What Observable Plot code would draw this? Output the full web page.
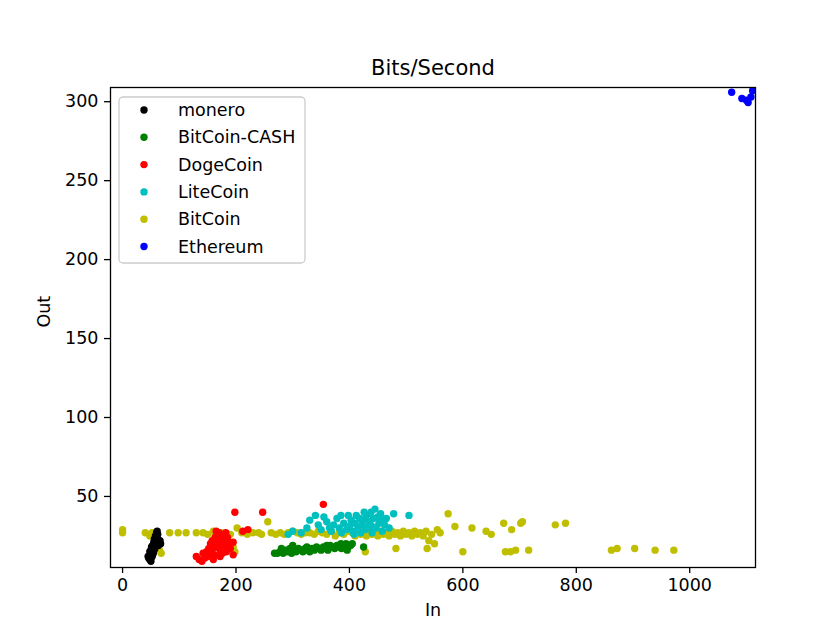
<!DOCTYPE html>
<html>
<head>
<meta charset="utf-8">
<script src="https://cdn.jsdelivr.net/npm/d3@7"></script>
<script src="https://cdn.jsdelivr.net/npm/@observablehq/plot@0.6"></script>
<style>
  html, body { margin: 0; padding: 0; background: #fff; }
  #chart { position: relative; width: 828px; height: 633px; }
</style>
</head>
<body>
<div id="chart"></div>
<script>
// ---- data (In, Out) ----
const seriesNames = ["monero", "BitCoin-CASH", "DogeCoin", "LiteCoin", "BitCoin", "Ethereum"];
const seriesColors = ["#000000", "#008000", "#ff0000", "#00bfbf", "#bfbf00", "#0000ff"];

const monero = [[48,10],[50,11],[47,12],[52,12],[49,13],[51,14],[53,13],[48,15],[50,16],[54,15],[52,17],[55,16],[51,18],[56,18],[53,19],[57,20],[55,21],[58,19],[59,22],[56,23],[60,21],[61,24],[58,25],[62,26],[60,27],[61,28],[59,20],[62,20],[65,21],[57,17],[49,11],[46,11],[54,14],[63,19],[67,20],[66,22],[50,9],[45,12]];
const bitcoinCash = [[268,14],[273,14],[278,15],[283,14],[287,16],[290,15],[295,17],[298,14],[302,16],[306,15],[310,17],[314,16],[318,15],[322,17],[326,16],[330,15],[334,17],[338,16],[342,18],[346,17],[350,16],[354,18],[358,17],[362,16],[366,19],[370,18],[374,17],[378,19],[382,18],[386,17],[390,19],[394,20],[398,18],[402,19],[405,20],[425,18],[280,17],[300,19],[325,18],[360,19],[385,20],[396,16]];
const dogecoin = [[135,10],[140,9],[130,12],[145,11],[150,12],[148,15],[155,14],[152,17],[158,16],[160,19],[162,13],[165,18],[168,22],[170,20],[172,16],[163,24],[175,25],[178,22],[180,19],[182,27],[170,27],[165,28],[185,24],[188,21],[176,14],[158,22],[155,20],[190,17],[195,21],[195,13],[198,40],[247,40],[354,45],[212,28],[221,29],[172,12],[160,10],[142,14],[183,15],[167,25]];
const litecoin = [[292,26],[300,28],[315,27],[325,30],[330,35],[340,38],[345,32],[350,29],[355,37],[360,34],[365,30],[368,28],[372,32],[378,36],[382,30],[386,27],[390,33],[395,29],[398,38],[400,31],[403,35],[406,28],[410,33],[412,38],[415,30],[418,36],[420,27],[422,32],[425,35],[428,29],[430,38],[433,31],[436,34],[438,40],[440,27],[442,36],[445,42],[447,30],[450,37],[452,33],[455,39],[458,28],[460,35],[462,32],[465,36],[440,31],[426,40],[408,26],[478,39],[505,38],[470,30],[385,38]];
const bitcoin = [[0,27],[0,29],[40,27],[48,25],[52,27],[65,16],[68,14],[83,27],[98,27],[112,27],[130,27],[142,27],[150,26],[160,28],[175,27],[190,26],[195,18],[198,15],[202,30],[210,27],[220,26],[230,27],[240,27],[245,26],[256,34],[262,27],[270,26],[278,27],[285,26],[292,27],[300,28],[308,27],[315,26],[322,27],[330,27],[338,26],[345,28],[352,27],[360,26],[368,28],[375,25],[382,27],[390,26],[398,28],[405,27],[410,25],[415,28],[420,26],[425,27],[428,15],[430,25],[435,28],[440,26],[445,27],[450,25],[455,28],[460,26],[465,27],[470,25],[475,28],[480,26],[482,17],[485,27],[490,25],[495,28],[500,26],[505,27],[510,25],[515,28],[520,26],[525,27],[530,25],[535,28],[537,17],[540,22],[545,26],[550,20],[555,29],[560,27],[574,39],[586,31],[600,15],[616,30],[641,28],[650,26],[672,33],[675,15],[684,15],[686,29],[693,16],[702,33],[705,34],[716,16],[763,32],[781,33],[862,16],[872,17],[903,17],[939,16],[972,16]];
const ethereum = [[1074,306],[1092,302],[1103,299.5],[1111,307],[1108,303],[1100,301]];

const xTicks = [0, 200, 400, 600, 800, 1000];
const yTicks = [50, 100, 150, 200, 250, 300];
const title = "Bits/Second";
const xLabel = "In";
const yLabel = "Out";

// ---- build table ----
const seriesData = [monero, bitcoinCash, dogecoin, litecoin, bitcoin, ethereum];
const drawOrder = [4, 0, 1, 2, 3, 5];
const rows = [];
for (const i of drawOrder) {
  for (const [x, y] of seriesData[i]) rows.push({series: seriesNames[i], x, y});
}

const W = 828, H = 633;
const mL = 110, mR = 73, mT = 87, mB = 66;

const chart = Plot.plot({
  width: W,
  height: H,
  marginLeft: mL,
  marginRight: mR,
  marginTop: mT,
  marginBottom: mB,
  style: {fontFamily: "DejaVu Sans, sans-serif", fontSize: "17.5px", color: "#000", background: "#fff"},
  x: {domain: [-21.3, 1116]},
  y: {domain: [5, 309]},
  color: {domain: seriesNames, range: seriesColors},
  marks: [
    Plot.dot(rows, {x: "x", y: "y", fill: "series", r: 3.7, clip: true}),
    Plot.frame({stroke: "#000", strokeWidth: 1.3}),
    Plot.axisX({ticks: xTicks, tickFormat: d3.format("d"), tickSize: 6, tickPadding: 5, label: null, strokeWidth: 1.3}),
    Plot.axisY({ticks: yTicks, tickFormat: d3.format("d"), tickSize: 6, tickPadding: 6, label: null, strokeWidth: 1.3}),
    Plot.text([title], {frameAnchor: "top", lineAnchor: "middle", dy: -19, fontSize: 21, text: d => d}),
    Plot.text([xLabel], {frameAnchor: "bottom", lineAnchor: "middle", dy: 43, fontSize: 17.5, text: d => d}),
    Plot.text([yLabel], {frameAnchor: "left", lineAnchor: "middle", dx: -66, rotate: -90, fontSize: 17.5, text: d => d})
  ]
});

document.getElementById("chart").appendChild(chart);

// ---- legend (upper left, inside axes) ----
const svg = d3.select(chart);
const lg = svg.append("g").attr("class", "legend").attr("text-anchor", "start");
const lx = 119, ly = 97, lw = 186, lh = 166;
lg.append("rect")
  .attr("x", lx).attr("y", ly).attr("width", lw).attr("height", lh)
  .attr("rx", 4).attr("ry", 4)
  .attr("fill", "#fff").attr("fill-opacity", 0.8)
  .attr("stroke", "#cccccc").attr("stroke-width", 1.3);
seriesNames.forEach((name, i) => {
  const cy = 110 + i * 27.3;
  lg.append("circle").attr("cx", 144).attr("cy", cy).attr("r", 3.7).attr("fill", seriesColors[i]);
  lg.append("text").attr("x", 178).attr("y", cy).attr("dy", "0.35em")
    .attr("text-anchor", "start")
    .attr("font-size", 17.5).attr("fill", "#000").text(name);
});
</script>
</body>
</html>
